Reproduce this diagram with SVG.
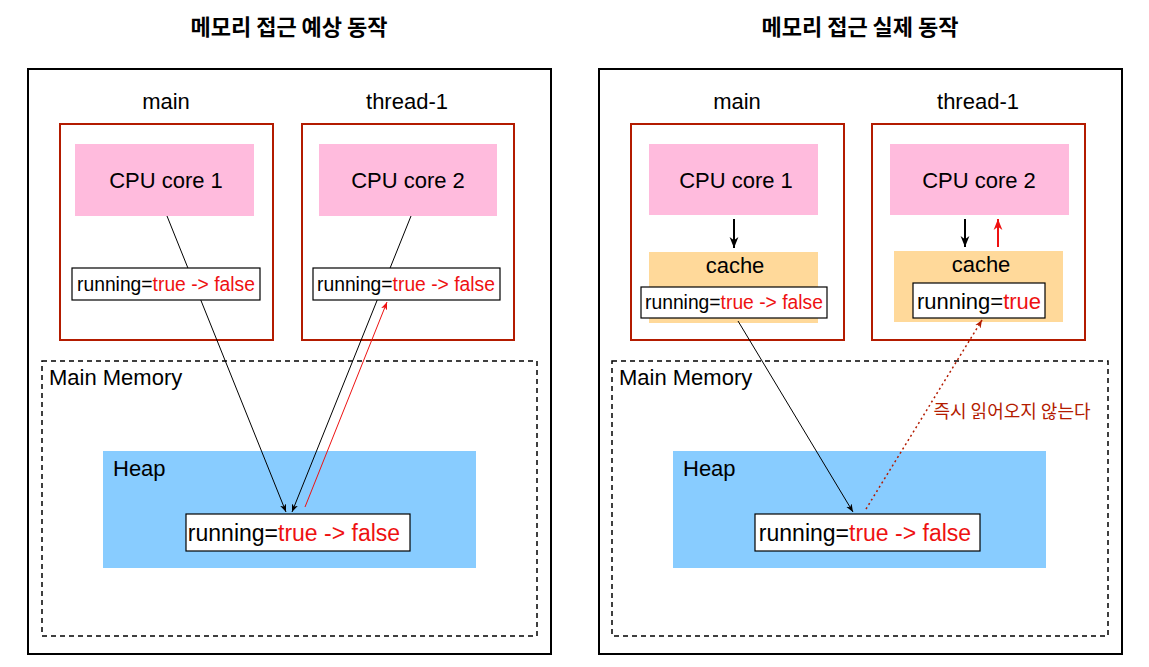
<svg xmlns="http://www.w3.org/2000/svg" width="1149" height="667" viewBox="0 0 1149 667">
<defs>
<style>
text{font-family:"Liberation Sans","Noto Sans CJK KR",sans-serif;fill:#000}
.title{font-family:"Noto Sans CJK KR","Liberation Sans",sans-serif;font-weight:bold;font-size:22px;text-anchor:middle}
.outer{fill:#fff;stroke:#000;stroke-width:2}
.thr{fill:#fff;stroke:#B31B00;stroke-width:2}
.cpu{fill:#FFBBDD;stroke:none}
.cache{fill:#FFD99A;stroke:none}
.mem{fill:none;stroke:#000;stroke-width:1.5;stroke-dasharray:5 4}
.heap{fill:#88CCFF;stroke:none}
.box{fill:#fff;stroke:#000;stroke-width:1.2}
.lbl{font-size:22px;text-anchor:middle}
.lbll{font-size:22px}
.red{fill:#EE1111}
.var{font-size:19.3px;text-anchor:middle}
.varL{font-size:23px;text-anchor:middle}
.ln{stroke:#000;stroke-width:1;fill:none}
.rl{stroke:#EE1111;stroke-width:1;fill:none}
.dl{stroke:#B31B00;stroke-width:1.5;fill:none;stroke-dasharray:2 3}
</style>
<marker id="ab" viewBox="0 0 10 10" refX="10" refY="5" markerWidth="8" markerHeight="8" orient="auto" markerUnits="userSpaceOnUse"><path d="M0,1 L10,5 L0,9 L3,5 Z" fill="#000"/></marker>
<marker id="ar" viewBox="0 0 10 10" refX="10" refY="5" markerWidth="8" markerHeight="8" orient="auto" markerUnits="userSpaceOnUse"><path d="M0,1 L10,5 L0,9 L3,5 Z" fill="#EE1111"/></marker>
<marker id="ad" viewBox="0 0 10 10" refX="10" refY="5" markerWidth="8" markerHeight="8" orient="auto" markerUnits="userSpaceOnUse"><path d="M0,1 L10,5 L0,9 L3,5 Z" fill="#B31B00"/></marker>
<marker id="abb" viewBox="0 0 10 10" refX="10" refY="5" markerWidth="11" markerHeight="11" orient="auto" markerUnits="userSpaceOnUse"><path d="M0,1 L10,5 L0,9 L3,5 Z" fill="#000"/></marker>
<marker id="arb" viewBox="0 0 10 10" refX="10" refY="5" markerWidth="11" markerHeight="11" orient="auto" markerUnits="userSpaceOnUse"><path d="M0,1 L10,5 L0,9 L3,5 Z" fill="#EE1111"/></marker>
</defs>
<rect width="1149" height="667" fill="#fff"/>

<g id="left-panel">
<text class="title" x="289" y="35">메모리 접근 예상 동작</text>
<rect class="outer" x="28" y="69" width="523" height="585"/>
</g>
<g id="left-main">
<text class="lbl" x="166" y="109">main</text>
<rect class="thr" x="60" y="124" width="213" height="216"/>
<rect class="cpu" x="75" y="144" width="179" height="72"/>
<text class="lbl" x="166" y="188">CPU core 1</text>
</g>
<g id="left-thread">
<text class="lbl" x="407" y="109">thread-1</text>
<rect class="thr" x="302" y="124" width="212" height="216"/>
<rect class="cpu" x="319" y="144" width="178" height="72"/>
<text class="lbl" x="408" y="188">CPU core 2</text>
</g>
<g id="left-memory">
<rect class="mem" x="42" y="361" width="495" height="275"/>
<text class="lbll" x="49" y="385">Main Memory</text>
<rect class="heap" x="103" y="451" width="373" height="117"/>
<text class="lbll" x="113" y="476">Heap</text>
</g>

<g id="right-panel">
<text class="title" x="860" y="35">메모리 접근 실제 동작</text>
<rect class="outer" x="599" y="69" width="523" height="585"/>
</g>
<g id="right-main">
<text class="lbl" x="737" y="109">main</text>
<rect class="thr" x="631" y="124" width="213" height="216"/>
<rect class="cpu" x="649" y="144" width="169" height="71"/>
<text class="lbl" x="736" y="188">CPU core 1</text>
<rect class="cache" x="649" y="252" width="169" height="71"/>
<text class="lbl" x="735" y="273">cache</text>
</g>
<g id="right-thread">
<text class="lbl" x="978" y="109">thread-1</text>
<rect class="thr" x="872" y="124" width="213" height="216"/>
<rect class="cpu" x="890" y="144" width="179" height="71"/>
<text class="lbl" x="979" y="188">CPU core 2</text>
<rect class="cache" x="894" y="251" width="169" height="71"/>
<text class="lbl" x="981" y="272">cache</text>
</g>
<g id="right-memory">
<rect class="mem" x="612" y="361" width="496" height="275"/>
<text class="lbll" x="619" y="385">Main Memory</text>
<rect class="heap" x="673" y="451" width="373" height="117"/>
<text class="lbll" x="683" y="476">Heap</text>
</g>

<g id="connectors">
<line class="ln" x1="167" y1="216" x2="286" y2="512" marker-end="url(#ab)"/>
<line class="ln" x1="411" y1="216" x2="292" y2="512" marker-end="url(#ab)"/>
<line class="rl" x1="305" y1="507" x2="387" y2="302" marker-end="url(#ar)"/>
<line class="ln" x1="738" y1="321" x2="853" y2="512" marker-end="url(#ab)"/>
<line class="dl" x1="866" y1="509" x2="982" y2="320" marker-end="url(#ad)"/>
<line stroke="#000" stroke-width="2" x1="734" y1="219" x2="734" y2="248" marker-end="url(#abb)"/>
<line stroke="#000" stroke-width="2" x1="965" y1="219" x2="965" y2="247" marker-end="url(#abb)"/>
<line stroke="#EE1111" stroke-width="2" x1="998" y1="247" x2="998" y2="219" marker-end="url(#arb)"/>
<text x="1012" y="418" font-size="18" text-anchor="middle" style="fill:#B31B00;font-family:'Noto Sans CJK KR','Liberation Sans',sans-serif">즉시 읽어오지 않는다</text>
</g>

<g id="left-var1">
<rect class="box" x="72" y="268" width="188" height="32"/>
<text class="var" x="166" y="291">running=<tspan class="red">true -&gt; false</tspan></text>
</g>
<g id="left-var2">
<rect class="box" x="313" y="268" width="187" height="32"/>
<text class="var" x="406" y="291">running=<tspan class="red">true -&gt; false</tspan></text>
</g>
<g id="left-heapvar">
<rect class="box" x="186" y="514" width="224" height="37"/>
<text class="varL" x="294" y="541">running=<tspan class="red">true -&gt; false</tspan></text>
</g>
<g id="right-var1">
<rect class="box" x="641" y="287" width="186" height="31"/>
<text class="var" x="734" y="309">running=<tspan class="red">true -&gt; false</tspan></text>
</g>
<g id="right-var2">
<rect class="box" x="913" y="283" width="132" height="35"/>
<text class="lbl" x="979" y="309">running=<tspan class="red">true</tspan></text>
</g>
<g id="right-heapvar">
<rect class="box" x="755" y="514" width="225" height="37"/>
<text class="varL" x="865" y="541">running=<tspan class="red">true -&gt; false</tspan></text>
</g>
</svg>
